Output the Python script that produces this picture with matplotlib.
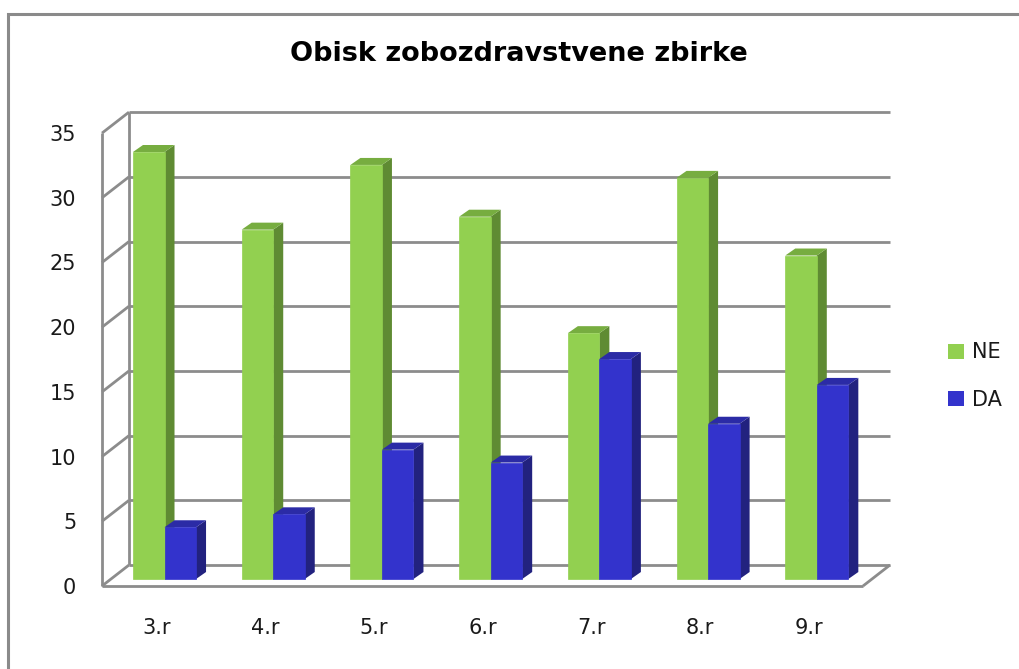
import numpy as np
import matplotlib
matplotlib.use("Agg")
import matplotlib.pyplot as plt
from matplotlib.patches import Polygon, Rectangle, Patch

# podatki
razredi = ["3.r", "4.r", "5.r", "6.r", "7.r", "8.r", "9.r"]
ne = [33, 27, 32, 28, 19, 31, 25]
da = [4, 5, 10, 9, 17, 12, 15]
serije = ["NE", "DA"]
yticks = [0, 5, 10, 15, 20, 25, 30, 35]

# barve (spredaj, stranica, vrh)
zelena = ("#92D050", "#5F8B33", "#77AD40")
modra = ("#3333CC", "#22227F", "#2B2BA6")
siva = "#8C8C8C"

# psevdo 3D zamiki v podatkovnih enotah
WALL_DX, WALL_DY = 0.248, 1.62
PLANE_DX, PLANE_DY = 0.075, 0.54
DEPTH_DX, DEPTH_DY = 0.092, 0.54
BW = 0.29

W, H = 1019, 669
fig = plt.figure(figsize=(W / 100, H / 100), dpi=100)
ax = fig.add_axes([102 / W, (H - 586) / H, 761 / W, 35 * 12.94 / H])
ax.set_xlim(0, len(razredi))
ax.set_ylim(0, 35)
for s in ax.spines.values():
    s.set_visible(False)

# okvir slike
fig.patches.append(Rectangle((8 / W, -0.1), 1.2, 1 - 14 / H + 0.1,
                             transform=fig.transFigure, fill=False,
                             edgecolor="#8A8A8A", lw=2.2))

# stene in mreza
n = len(razredi)
kw = dict(color=siva, lw=2, clip_on=False, zorder=1, solid_capstyle="butt")
for v in yticks:
    ax.plot([WALL_DX, n + WALL_DX], [v + WALL_DY, v + WALL_DY], **kw)
    ax.plot([0, WALL_DX], [v, v + WALL_DY], **kw)
ax.plot([0, 0], [0, 35], **kw)
ax.plot([WALL_DX, WALL_DX], [WALL_DY, 35 + WALL_DY], **kw)
ax.plot([0, n], [0, 0], **kw)
ax.plot([n, n + WALL_DX], [0, WALL_DY], **kw)


def stolpec(x0, h, barve):
    y0 = PLANE_DY
    spredaj = Rectangle((x0, y0), BW, h, facecolor=barve[0], edgecolor=barve[0],
                        lw=0.5, zorder=3)
    stran = Polygon([(x0 + BW, y0), (x0 + BW + DEPTH_DX, y0 + DEPTH_DY),
                     (x0 + BW + DEPTH_DX, y0 + h + DEPTH_DY), (x0 + BW, y0 + h)],
                    closed=True, facecolor=barve[1], edgecolor="none", zorder=3)
    vrh = Polygon([(x0, y0 + h), (x0 + BW, y0 + h),
                   (x0 + BW + DEPTH_DX, y0 + h + DEPTH_DY), (x0 + DEPTH_DX, y0 + h + DEPTH_DY)],
                  closed=True, facecolor=barve[2], edgecolor="none", zorder=3)
    for p in (stran, vrh, spredaj):
        p.set_clip_on(False)
        ax.add_patch(p)


for i in range(n):
    c = i + 0.5 + PLANE_DX
    stolpec(c - BW, ne[i], zelena)
    stolpec(c, da[i], modra)

ax.set_xticks(np.arange(n) + 0.5, razredi)
ax.set_yticks(yticks, [str(v) for v in yticks])
ax.tick_params(axis="both", length=0, labelsize=15, colors="#1a1a1a")
ax.tick_params(axis="x", pad=23)
ax.tick_params(axis="y", pad=18.5)

fig.text(519 / W, 1 - 54 / H, "Obisk zobozdravstvene zbirke",
         ha="center", va="center", fontsize=19.5, fontweight="bold")

roc = [Patch(facecolor=zelena[0]), Patch(facecolor=modra[0])]
fig.legend(roc, serije, loc="center left", bbox_to_anchor=(948 / W, 1 - 376 / H),
           frameon=False, fontsize=15, handlelength=0.75, handleheight=0.75,
           handletextpad=0.4, labelspacing=1.3, borderpad=0, borderaxespad=0,
           labelcolor="#1a1a1a")

fig.savefig("out.png", dpi=100)
